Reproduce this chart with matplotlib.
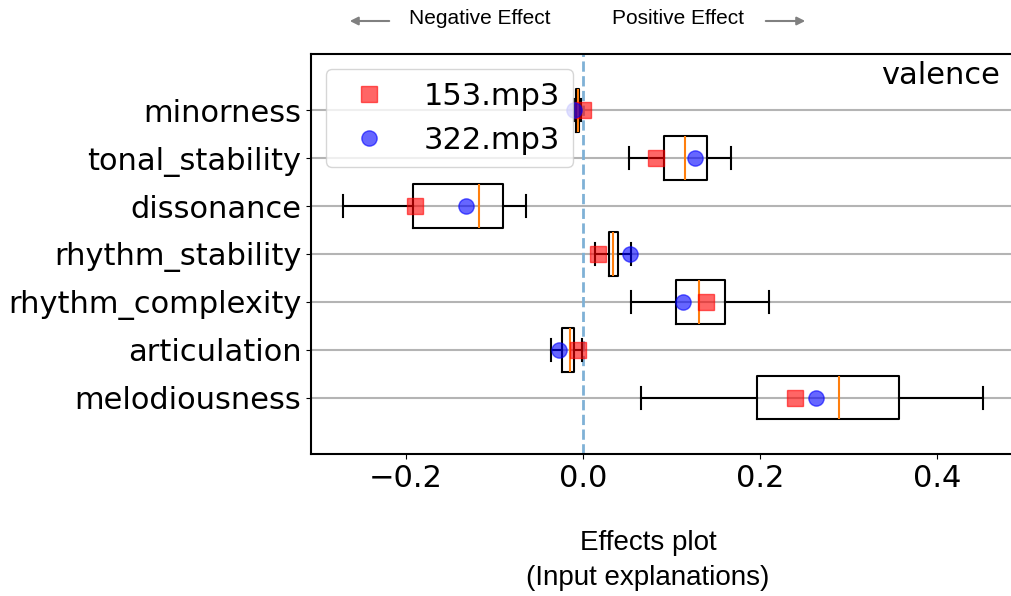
import matplotlib
matplotlib.use('Agg')
import matplotlib.pyplot as plt
import numpy as np

# features, listed bottom to top as they appear on the y axis
features = ['melodiousness', 'articulation', 'rhythm_complexity', 'rhythm_stability',
            'dissonance', 'tonal_stability', 'minorness']

# box statistics (same order as features)
whislo = [0.066, -0.036, 0.054, 0.014, -0.271, 0.052, -0.010]
q1     = [0.197, -0.024, 0.105, 0.029, -0.192, 0.092, -0.008]
med    = [0.289, -0.015, 0.131, 0.034, -0.117, 0.115, -0.006]
q3     = [0.357, -0.010, 0.161, 0.039, -0.090, 0.140, -0.004]
whishi = [0.452, -0.001, 0.210, 0.054, -0.064, 0.167, -0.002]

# explanations for the two songs
song_153 = [0.240, -0.006, 0.139, 0.017, -0.190, 0.083, 0.000]
song_322 = [0.263, -0.027, 0.113, 0.053, -0.132, 0.127, -0.010]

positions = np.arange(1, len(features) + 1)

fig = plt.figure(figsize=(10.11, 5.96), dpi=100)
ax = fig.add_axes([311/1011, 142/596, 702/1011, 400/596])

stats = []
for i in range(len(features)):
    stats.append({'whislo': whislo[i], 'q1': q1[i], 'med': med[i],
                  'q3': q3[i], 'whishi': whishi[i], 'fliers': []})

ax.yaxis.grid(True, color='#b4b4b4', linewidth=1.5, zorder=0)
ax.set_axisbelow(True)
ax.axvline(0, color='#7fb1d6', linestyle='--', linewidth=2, zorder=1)

ax.bxp(stats, positions=positions, vert=False, widths=0.9, showfliers=False,
       boxprops=dict(color='black', linewidth=1.5),
       whiskerprops=dict(color='black', linewidth=1.5),
       capprops=dict(color='black', linewidth=1.5),
       medianprops=dict(color='#ff7f0e', linewidth=1.5))

ax.plot(song_153, positions, 's', color='red', alpha=0.6, markersize=11,
        linestyle='none', label='153.mp3', zorder=5)
ax.plot(song_322, positions, 'o', color='blue', alpha=0.6, markersize=11,
        linestyle='none', label='322.mp3', zorder=5)

ax.set_yticks(positions)
ax.set_yticklabels(features)
ax.set_xticks([-0.2, 0.0, 0.2, 0.4])
ax.tick_params(labelsize=22)
ax.set_xlim(-272/885, 430/885)
ax.set_ylim(-0.17, 8.17)
for s in ['top', 'bottom', 'left', 'right']:
    ax.spines[s].set_linewidth(1.5)

ax.legend(loc='upper left', fontsize=22)
ax.text(0.981, 0.9475, 'valence', transform=ax.transAxes, ha='right', va='center',
        fontsize=22)

# arrows and labels above the plot
sans = 'Liberation Sans'
fig.text(480/1011, 1 - 19/596, 'Negative Effect', ha='center', va='center',
         fontsize=15, family=sans)
fig.text(678/1011, 1 - 19/596, 'Positive Effect', ha='center', va='center',
         fontsize=15, family=sans)
arrow = dict(arrowstyle='-|>', color='#808080', lw=1.5, mutation_scale=12)
fig.add_artist(matplotlib.patches.FancyArrowPatch(
    (392/1011, 1 - 21/596), (347/1011, 1 - 21/596), transform=fig.transFigure, **arrow))
fig.add_artist(matplotlib.patches.FancyArrowPatch(
    (763/1011, 1 - 21/596), (808/1011, 1 - 21/596), transform=fig.transFigure, **arrow))

# caption below
fig.text(648/1011, 1 - 543/596, 'Effects plot', ha='center', va='center',
         fontsize=20, family=sans)
fig.text(648/1011, 1 - 578/596, '(Input explanations)', ha='center', va='center',
         fontsize=20, family=sans)

fig.savefig('out.png', dpi=100)
